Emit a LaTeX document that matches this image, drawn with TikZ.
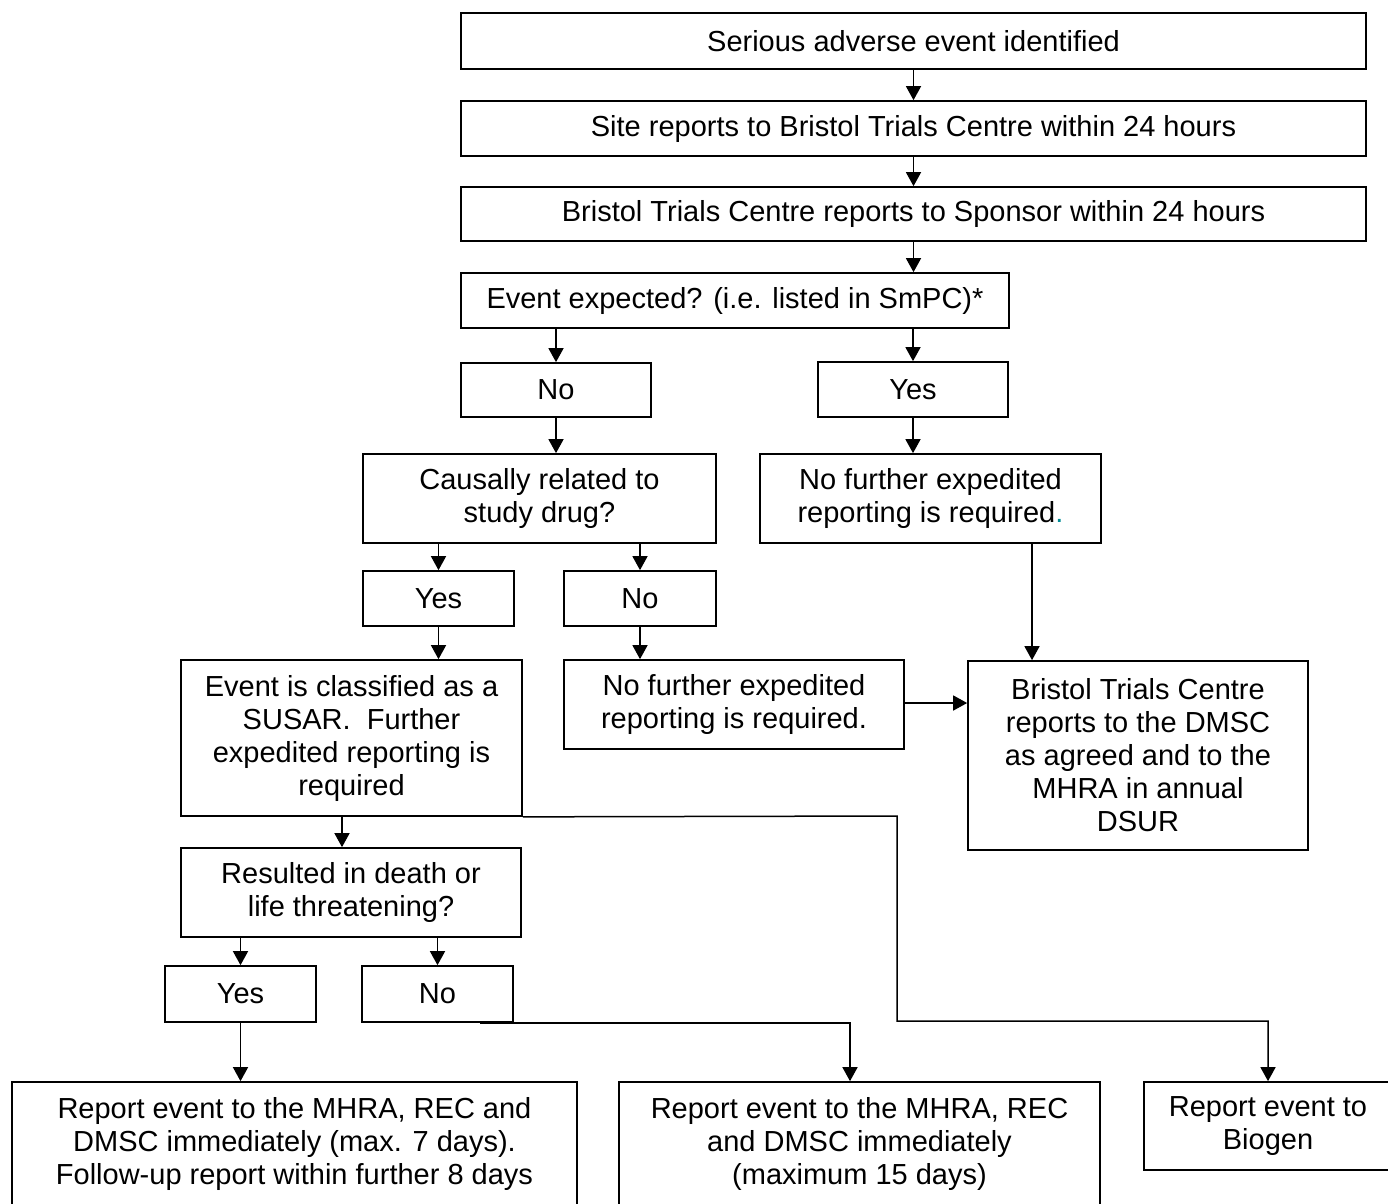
\documentclass[tikz,border=0pt]{standalone}
\usepackage{fontspec}
\setmainfont{Liberation Sans}
\usetikzlibrary{arrows.meta}
\definecolor{dotteal}{RGB}{0,140,150}
\tikzset{
  box/.style={draw=black, line width=1.7pt, rectangle, inner sep=0pt, align=center,
    font=\fontsize{29}{33}\selectfont},
  conn/.style={line width=1.5pt, -{Triangle[length=14pt,width=15pt]}},
  plain/.style={line width=1.5pt}
}
\begin{document}
\begin{tikzpicture}[x=1pt,y=-1pt]
\useasboundingbox (0,0) rectangle (1388,1203);
\fill[white] (0,0) rectangle (1388,1203);

\node[box, minimum width=905pt, minimum height=56pt] (b1) at (913.5,41) {Serious adverse event identified};
\node[box, minimum width=905pt, minimum height=55pt] (b2) at (913.5,128.5) {Site reports to Bristol Trials Centre within 24 hours};
\node[box, minimum width=905pt, minimum height=54pt] (b3) at (913.5,214) {Bristol Trials Centre reports to Sponsor within 24 hours};
\node[box, minimum width=548pt, minimum height=55pt] (b4) at (735,300.5) {Event expected? (i.e. listed in SmPC)*};

\node[box, minimum width=190pt, minimum height=54pt] (no1) at (556,390) {No};
\node[box, minimum width=190pt, minimum height=55pt] (yes1) at (913,389.5) {Yes};

\node[box, minimum width=353pt, minimum height=89pt] (causal) at (539.5,498.5) {Causally related to\\study drug?};
\node[box, minimum width=341pt, minimum height=89pt] (nf1) at (930.5,498.5) {No further expedited\\reporting is required{\color{dotteal}.}};

\node[box, minimum width=151pt, minimum height=55pt] (yes2) at (438.5,598.5) {Yes};
\node[box, minimum width=152pt, minimum height=55pt] (no2) at (640,598.5) {No};

\node[box, minimum width=341pt, minimum height=156pt] (susar) at (351.5,738) {Event is classified as a\\SUSAR.\ \ Further\\expedited reporting is\\required};
\node[box, minimum width=340pt, minimum height=89pt] (nf2) at (734,704.5) {No further expedited\\reporting is required.};
\node[box, minimum width=340pt, minimum height=189pt] (dmsc) at (1138,755.5) {Bristol Trials Centre\\reports to the DMSC\\as agreed and to the\\MHRA in annual\\DSUR};

\node[box, minimum width=340pt, minimum height=89pt] (res) at (351,892.5) {Resulted in death or\\life threatening?};

\node[box, minimum width=151pt, minimum height=56pt] (yes3) at (240.5,994) {Yes};
\node[box, minimum width=151pt, minimum height=56pt] (no3) at (437.5,994) {No};

\node[box, minimum width=565pt, minimum height=124pt] (rep1) at (294.5,1144) {Report event to the MHRA, REC and\\DMSC immediately (max. 7 days).\\Follow-up report within further 8 days};
\node[box, minimum width=481pt, minimum height=124pt] (rep2) at (859.5,1144) {Report event to the MHRA, REC\\and DMSC immediately\\(maximum 15 days)};
\node[box, minimum width=248pt, minimum height=88pt] (bio) at (1268,1126) {Report event to\\Biogen};

% connectors
\draw[conn] (b1.south) -- (b2.north);
\draw[conn] (b2.south) -- (b3.north);
\draw[conn] (b3.south) -- (b3.south |- b4.north);
\draw[conn] (no1.north |- b4.south) -- (no1.north);
\draw[conn] (yes1.north |- b4.south) -- (yes1.north);
\draw[conn] (no1.south) -- (no1.south |- causal.north);
\draw[conn] (yes1.south) -- (yes1.south |- nf1.north);
\draw[conn] (yes2.north |- causal.south) -- (yes2.north);
\draw[conn] (no2.north |- causal.south) -- (no2.north);
\draw[conn] (yes2.south) -- (yes2.south |- susar.north);
\draw[conn] (no2.south) -- (no2.south |- nf2.north);

\coordinate (nf1out) at ([xshift=101.5pt]nf1.south);
\draw[conn] (nf1out) -- (nf1out |- dmsc.north);
\draw[conn] ([yshift=1.5pt]nf2.east) -- ([yshift=1.5pt]nf2.east -| dmsc.west);

\coordinate (susout) at ([xshift=-9.5pt]susar.south);
\draw[conn] (susout) -- (susout |- res.north);

\coordinate (bend1) at (897,816);
\coordinate (bend2) at (897,1021);
\coordinate (bioin) at (bio.north);
\draw[conn] (susar.south east) -- (bend1) -- (bend2) -- (bend2 -| bioin) -- (bioin);

\draw[conn] (yes3.north |- res.south) -- (yes3.north);
\draw[conn] (no3.north |- res.south) -- (no3.north);
\draw[conn] (yes3.south) -- (yes3.south |- rep1.north);

\coordinate (rep2in) at ([xshift=-9.5pt]rep2.north);
\coordinate (no3out) at ([xshift=42pt]no3.south);
\draw[conn] (no3out) -- (no3out -| rep2in) -- (rep2in);
\end{tikzpicture}
\end{document}
